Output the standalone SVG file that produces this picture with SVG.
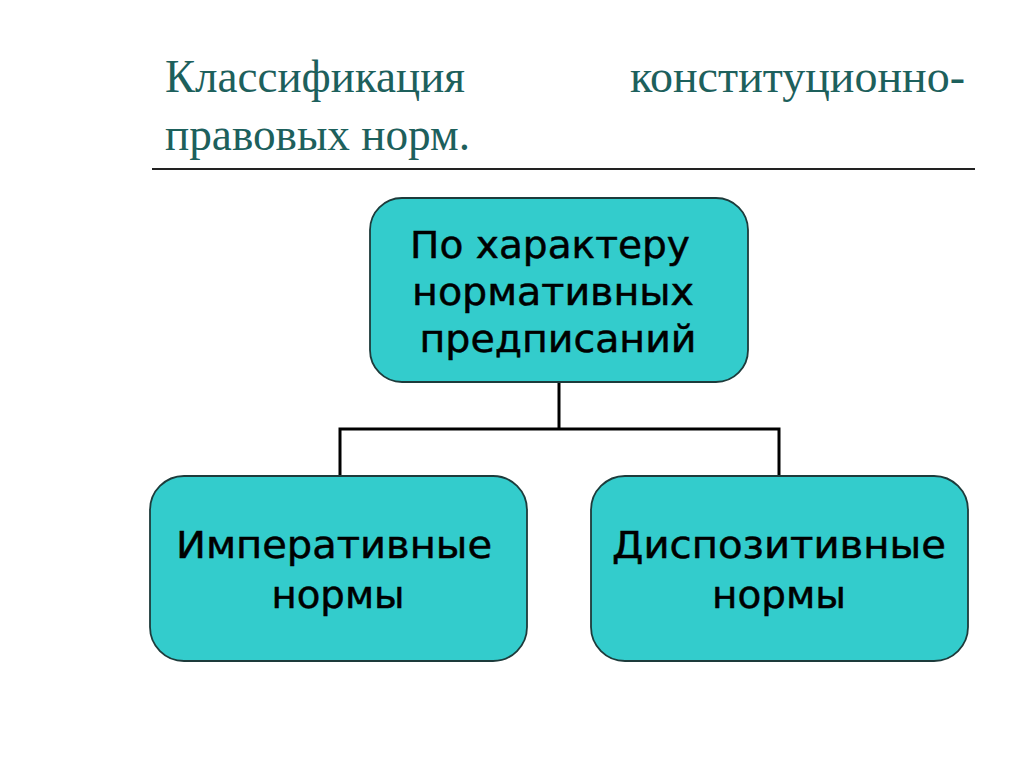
<svg xmlns="http://www.w3.org/2000/svg" width="1024" height="767" viewBox="0 0 1024 767">
<style>
.title{font-family:"Liberation Serif","Times New Roman",serif;font-size:47px;fill:#1d605c}
.box{fill:#33CCCC;stroke:#1d3b3b;stroke-width:1.8}
.lbl{font-family:"DejaVu Sans",Verdana,sans-serif;font-size:38px;fill:#000;stroke:#000;stroke-width:0.5;text-anchor:middle}
.conn{fill:none;stroke:#000;stroke-width:3}
</style>
<rect width="1024" height="767" fill="#fff"/>
<g id="title">
<text class="title" x="165" y="92" textLength="300" lengthAdjust="spacingAndGlyphs">Классификация</text>
<text class="title" x="630" y="92" textLength="335" lengthAdjust="spacingAndGlyphs">конституционно-</text>
<text class="title" x="165" y="150" textLength="305" lengthAdjust="spacingAndGlyphs">правовых норм.</text>
<line x1="152" y1="169" x2="975" y2="169" stroke="#222" stroke-width="2"/>
</g>
<g id="connectors">
<polyline class="conn" points="559,382 559,429"/>
<polyline class="conn" points="340,476 340,429 779,429 779,476"/>
</g>
<g id="node-top">
<rect class="box" x="370" y="198" width="378" height="184" rx="32"/>
<text class="lbl" x="550" y="258" textLength="280" lengthAdjust="spacingAndGlyphs">По характеру</text>
<text class="lbl" x="553" y="305" textLength="282" lengthAdjust="spacingAndGlyphs">нормативных</text>
<text class="lbl" x="558" y="352" textLength="277" lengthAdjust="spacingAndGlyphs">предписаний</text>
</g>
<g id="node-left">
<rect class="box" x="150" y="476" width="377" height="185" rx="34"/>
<text class="lbl" x="334" y="558" textLength="316" lengthAdjust="spacingAndGlyphs">Императивные</text>
<text class="lbl" x="338" y="608" textLength="133" lengthAdjust="spacingAndGlyphs">нормы</text>
</g>
<g id="node-right">
<rect class="box" x="591" y="476" width="377" height="185" rx="34"/>
<text class="lbl" x="779" y="558" textLength="334" lengthAdjust="spacingAndGlyphs">Диспозитивные</text>
<text class="lbl" x="779" y="608" textLength="134" lengthAdjust="spacingAndGlyphs">нормы</text>
</g>
</svg>
